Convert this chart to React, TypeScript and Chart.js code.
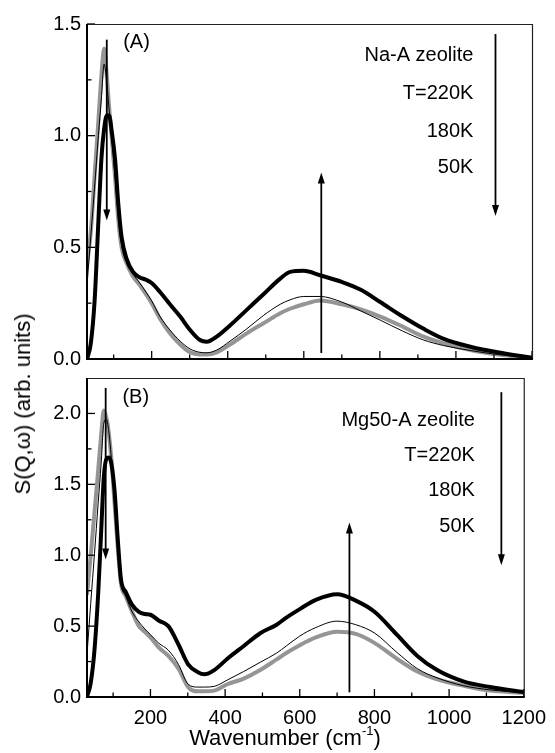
import React, { useEffect, useRef } from 'react';
import { Chart, registerables } from 'chart.js';

Chart.register(...registerables);

// ---------- data ----------
const wavenumbers = [30, 40, 50, 60, 68, 75, 82, 88, 95, 104, 112, 121, 134, 151, 169, 185, 200, 222, 248, 275, 301, 327, 345, 371, 406, 450, 494, 538, 564, 600, 643, 700, 750, 801, 860, 915, 968, 1038, 1110, 1200];

// Panel (A) Na-A zeolite
const naA_220K = [0.0, 0.07, 0.26, 0.62, 0.90, 1.03, 1.09, 1.09, 1.02, 0.89, 0.70, 0.545, 0.45, 0.39, 0.365, 0.355, 0.34, 0.30, 0.245, 0.19, 0.13, 0.085, 0.077, 0.10, 0.15, 0.22, 0.29, 0.36, 0.39, 0.395, 0.375, 0.345, 0.31, 0.255, 0.19, 0.135, 0.09, 0.055, 0.03, 0.005];
const naA_180K = [0.33, 0.55, 0.77, 1.0, 1.17, 1.32, 1.24, 1.12, 0.99, 0.81, 0.64, 0.51, 0.43, 0.38, 0.34, 0.30, 0.26, 0.19, 0.13, 0.08, 0.045, 0.03, 0.028, 0.04, 0.08, 0.135, 0.195, 0.245, 0.265, 0.28, 0.28, 0.255, 0.215, 0.174, 0.125, 0.085, 0.06, 0.038, 0.02, 0.005];
const naA_50K = [0.42, 0.57, 0.82, 1.07, 1.27, 1.39, 1.27, 1.13, 0.99, 0.81, 0.63, 0.50, 0.43, 0.37, 0.33, 0.29, 0.25, 0.18, 0.115, 0.065, 0.03, 0.02, 0.02, 0.03, 0.065, 0.115, 0.16, 0.205, 0.225, 0.245, 0.262, 0.245, 0.222, 0.19, 0.145, 0.10, 0.07, 0.04, 0.02, 0.005];

// Panel (B) Mg50-A zeolite
const mgA_220K = [0.0, 0.10, 0.33, 0.73, 1.17, 1.55, 1.68, 1.69, 1.65, 1.45, 1.13, 0.83, 0.74, 0.65, 0.60, 0.585, 0.58, 0.54, 0.50, 0.37, 0.23, 0.175, 0.16, 0.19, 0.27, 0.36, 0.45, 0.51, 0.56, 0.62, 0.685, 0.725, 0.68, 0.60, 0.44, 0.29, 0.19, 0.11, 0.07, 0.035];
const mgA_180K = [0.30, 0.66, 1.01, 1.37, 1.65, 1.93, 1.96, 1.88, 1.69, 1.36, 1.07, 0.80, 0.71, 0.60, 0.53, 0.48, 0.44, 0.38, 0.33, 0.23, 0.09, 0.07, 0.07, 0.075, 0.12, 0.18, 0.245, 0.31, 0.36, 0.43, 0.49, 0.535, 0.51, 0.45, 0.315, 0.20, 0.135, 0.08, 0.05, 0.03];
const mgA_50K = [0.72, 1.0, 1.3, 1.6, 1.85, 2.02, 1.97, 1.87, 1.69, 1.36, 1.07, 0.80, 0.71, 0.60, 0.50, 0.46, 0.42, 0.35, 0.29, 0.20, 0.07, 0.04, 0.04, 0.045, 0.09, 0.13, 0.19, 0.265, 0.31, 0.365, 0.42, 0.46, 0.445, 0.38, 0.27, 0.18, 0.125, 0.08, 0.045, 0.03];

// ticks
const xTicks = [200, 400, 600, 800, 1000, 1200];
const xMinorTicks = [100, 300, 500, 700, 900, 1100];
const yTicksA = [0, 0.5, 1.0, 1.5];
const yMinorA = [0.25, 0.75, 1.25];
const yTicksB = [0, 0.5, 1.0, 1.5, 2.0];
const yMinorB = [0.25, 0.75, 1.25, 1.75];

const FONT = '"Liberation Sans", Arial, Helvetica, sans-serif';

const decoPlugin = {
  id: 'deco',
  afterDraw(chart: any, _args: any, opts: any) {
    const { ctx, chartArea: a } = chart;
    const xs = chart.scales.x;
    const ys = chart.scales.y;
    ctx.save();
    const line = (x1: number, y1: number, x2: number, y2: number) => {
      ctx.beginPath();
      ctx.moveTo(x1, y1);
      ctx.lineTo(x2, y2);
      ctx.stroke();
    };
    ctx.strokeStyle = '#000';
    ctx.lineWidth = 1.3;
    for (const v of opts.xMajor) { const p = xs.getPixelForValue(v); line(p, a.bottom, p, a.bottom - 8); }
    for (const v of opts.xMinor) { const p = xs.getPixelForValue(v); line(p, a.bottom, p, a.bottom - 4.5); }
    for (const v of opts.yMajor) { const p = ys.getPixelForValue(v); line(a.left, p, a.left + 8, p); }
    for (const v of opts.yMinor) { const p = ys.getPixelForValue(v); line(a.left, p, a.left + 4.5, p); }

    // frame
    ctx.strokeStyle = '#222';
    ctx.lineWidth = 1.2;
    ctx.beginPath();
    ctx.moveTo(a.left, a.top + 0.5);
    ctx.lineTo(a.right + 0.5, a.top + 0.5);
    ctx.lineTo(a.right + 0.5, a.bottom);
    ctx.stroke();
    ctx.strokeStyle = '#000';
    ctx.lineWidth = 2;
    ctx.beginPath();
    ctx.moveTo(a.left, a.top);
    ctx.lineTo(a.left, a.bottom);
    ctx.lineTo(a.right + 1, a.bottom);
    ctx.stroke();

    // arrows
    ctx.fillStyle = '#000';
    ctx.lineWidth = 1.8;
    for (const ar of opts.arrows) {
      const px = xs.getPixelForValue(ar.x);
      const p0 = ys.getPixelForValue(ar.from);
      const p1 = ys.getPixelForValue(ar.to);
      const dir = Math.sign(p1 - p0);
      line(px, p0, px, p1 - dir * 8);
      ctx.beginPath();
      ctx.moveTo(px, p1);
      ctx.lineTo(px - 3.5, p1 - dir * 11);
      ctx.lineTo(px + 3.5, p1 - dir * 11);
      ctx.closePath();
      ctx.fill();
    }

    // labels
    ctx.font = '20px ' + FONT;
    ctx.textBaseline = 'middle';
    for (const lb of opts.labels) {
      ctx.textAlign = lb.align;
      ctx.fillText(lb.text, xs.getPixelForValue(lb.x), ys.getPixelForValue(lb.y));
    }
    ctx.restore();
  },
};

function buildConfig(p: any) {
  const datasets = [
    { label: p.names[0], data: wavenumbers.map((x, i) => ({ x, y: p.s220[i] })), borderColor: '#000', borderWidth: 4, pointRadius: 0, cubicInterpolationMode: 'monotone' },
    { label: p.names[1], data: wavenumbers.map((x, i) => ({ x, y: p.s180[i] })), borderColor: '#000', borderWidth: 1, pointRadius: 0, cubicInterpolationMode: 'monotone' },
    { label: p.names[2], data: wavenumbers.map((x, i) => ({ x, y: p.s50[i] })), borderColor: '#959595', borderWidth: 4, pointRadius: 0, cubicInterpolationMode: 'monotone' },
  ];
  return {
    type: 'line',
    data: { datasets },
    options: {
      responsive: false,
      animation: false,
      devicePixelRatio: 1,
      layout: { padding: { left: 0, right: 23, top: p.padTop, bottom: 0 } },
      plugins: {
        legend: { display: false },
        tooltip: { enabled: false },
        deco: {
          xMajor: xTicks,
          xMinor: xMinorTicks,
          yMajor: p.yTicks,
          yMinor: p.yMinor,
          arrows: p.arrows,
          labels: p.labels,
        },
      },
      scales: {
        x: {
          type: 'linear',
          min: 30,
          max: 1200,
          grid: { display: false, drawTicks: false },
          border: { display: false },
          afterBuildTicks: (s: any) => { s.ticks = xTicks.map((v) => ({ value: v })); },
          afterFit: (s: any) => { s.height = p.xHeight; },
          ticks: {
            display: p.showX,
            padding: 9,
            color: '#000',
            font: { family: FONT, size: 20 },
            maxRotation: 0,
            autoSkip: false,
            callback: (v: any) => String(v),
          },
        },
        y: {
          type: 'linear',
          min: 0,
          max: p.yMax,
          grid: { display: false, drawTicks: false },
          border: { display: false },
          afterBuildTicks: (s: any) => { s.ticks = p.yTicks.map((v: number) => ({ value: v })); },
          afterFit: (s: any) => { s.width = 87; },
          ticks: {
            padding: 6,
            color: '#000',
            font: { family: FONT, size: 20 },
            callback: (v: any) => Number(v).toFixed(1),
          },
        },
      },
    },
    plugins: [decoPlugin],
  };
}

const panelA = {
  names: ['T=220K', '180K', '50K'],
  s220: naA_220K, s180: naA_180K, s50: naA_50K,
  yMax: 1.5, yTicks: yTicksA, yMinor: yMinorA,
  padTop: 24, xHeight: 21, showX: false,
  arrows: [
    { x: 82, from: 1.43, to: 0.62 },
    { x: 646, from: 0.027, to: 0.835 },
    { x: 1104, from: 1.455, to: 0.64 },
  ],
  labels: [
    { text: '(A)', x: 125, y: 1.415, align: 'left' },
    { text: 'Na-A zeolite', x: 1046, y: 1.357, align: 'right' },
    { text: 'T=220K', x: 1046, y: 1.19, align: 'right' },
    { text: '180K', x: 1046, y: 1.02, align: 'right' },
    { text: '50K', x: 1046, y: 0.857, align: 'right' },
  ],
};

const panelB = {
  names: ['T=220K', '180K', '50K'],
  s220: mgA_220K, s180: mgA_180K, s50: mgA_50K,
  yMax: 2.25, yTicks: yTicksB, yMinor: yMinorB,
  padTop: 0, xHeight: 56, showX: true,
  arrows: [
    { x: 80, from: 2.18, to: 0.97 },
    { x: 733, from: 0.033, to: 1.23 },
    { x: 1140, from: 2.15, to: 0.93 },
  ],
  labels: [
    { text: '(B)', x: 125, y: 2.113, align: 'left' },
    { text: 'Mg50-A zeolite', x: 1069, y: 1.947, align: 'right' },
    { text: 'T=220K', x: 1069, y: 1.70, align: 'right' },
    { text: '180K', x: 1069, y: 1.46, align: 'right' },
    { text: '50K', x: 1069, y: 1.20, align: 'right' },
  ],
};

export default function App() {
  const topRef = useRef<HTMLCanvasElement | null>(null);
  const botRef = useRef<HTMLCanvasElement | null>(null);

  useEffect(() => {
    const c1 = new Chart(topRef.current as HTMLCanvasElement, buildConfig(panelA) as any);
    const c2 = new Chart(botRef.current as HTMLCanvasElement, buildConfig(panelB) as any);
    return () => { c1.destroy(); c2.destroy(); };
  }, []);

  return (
    <div style={{ position: 'absolute', left: 0, top: 0, width: 555, height: 753, background: '#fff', overflow: 'hidden', fontFamily: FONT }}>
      <canvas ref={botRef} width={555} height={393} style={{ position: 'absolute', left: 0, top: 360, width: 555, height: 393 }} />
      <canvas ref={topRef} width={555} height={380} style={{ position: 'absolute', left: 0, top: 0, width: 555, height: 380 }} />
      <div style={{ position: 'absolute', left: 23, top: 404, transform: 'translate(-50%, -50%) rotate(-90deg)', whiteSpace: 'nowrap', fontSize: 22, color: '#000', lineHeight: 1 }}>
        S(Q,ω) (arb. units)
      </div>
      <div style={{ position: 'absolute', left: 285, top: 738, transform: 'translate(-50%, -50%)', whiteSpace: 'nowrap', fontSize: 22, color: '#000', lineHeight: 1 }}>
        Wavenumber (cm<sup style={{ fontSize: 13, verticalAlign: 'top', position: 'relative', top: -3 }}>-1</sup>)
      </div>
    </div>
  );
}
